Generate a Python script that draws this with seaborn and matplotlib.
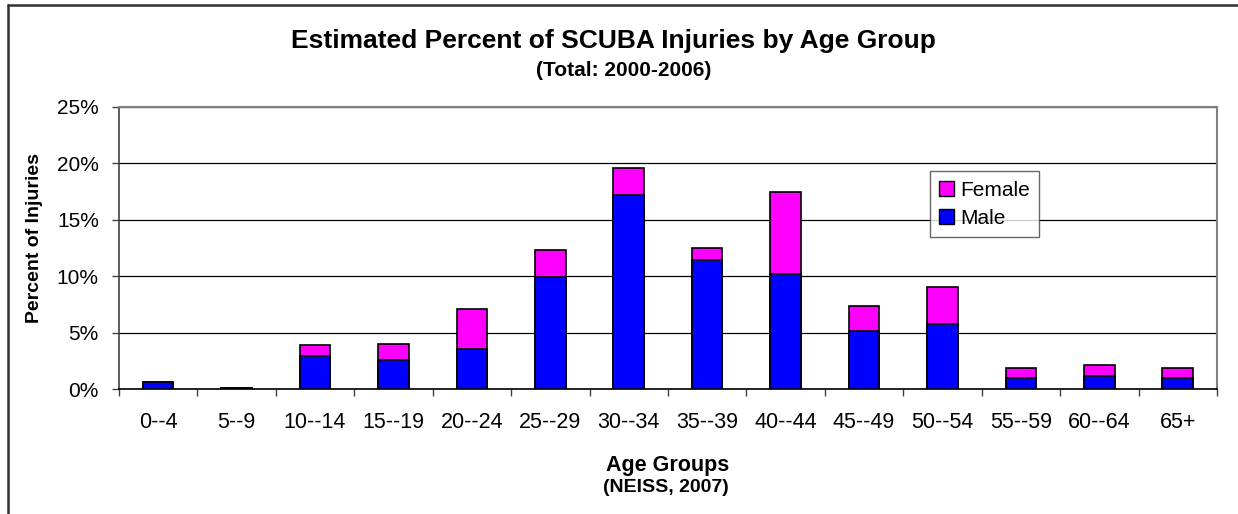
import matplotlib
matplotlib.use("Agg")
import matplotlib.pyplot as plt
import seaborn as sns
import pandas as pd
from matplotlib.lines import Line2D
from matplotlib.patches import Patch
from matplotlib.ticker import FixedLocator, PercentFormatter

# values (percent of injuries)
age_groups = ["0--4", "5--9", "10--14", "15--19", "20--24", "25--29", "30--34",
              "35--39", "40--44", "45--49", "50--54", "55--59", "60--64", "65+"]
male = [0.62, 0.15, 2.95, 2.56, 3.57, 9.96, 17.22, 11.44, 10.17, 5.16, 5.75, 0.97, 1.21, 0.97]
female = [0.04, 0.0, 0.97, 1.48, 3.56, 2.33, 2.36, 1.09, 7.31, 2.21, 3.33, 0.89, 0.91, 0.89]

df = pd.DataFrame({"Age": age_groups, "Male": male, "Female": female})
df["Total"] = df["Male"] + df["Female"]

sns.set_style("white")
plt.rcParams["font.family"] = ["Liberation Sans", "DejaVu Sans"]
plt.rcParams.update({"text.color": "black", "axes.labelcolor": "black",
                     "xtick.color": "black", "ytick.color": "black"})

fig = plt.figure(figsize=(12.38, 5.14), dpi=100)
ax = fig.add_axes([0.0961, 0.2426, 0.8869, 0.5498])

# stacked bars: total (female on top) drawn first, male drawn over it
sns.barplot(data=df, x="Age", y="Total", color="#FF00FF", width=0.39,
            edgecolor="black", linewidth=1.2, saturation=1, ax=ax, zorder=3)
sns.barplot(data=df, x="Age", y="Male", color="#0000FF", width=0.39,
            edgecolor="black", linewidth=1.2, saturation=1, ax=ax, zorder=3)

ax.set_ylim(0, 25)
ax.set_xlim(-0.5, len(age_groups) - 0.5)
ax.set_yticks([0, 5, 10, 15, 20, 25])
ax.yaxis.set_major_formatter(PercentFormatter(decimals=0))
ax.yaxis.grid(True, color="black", linewidth=0.9, zorder=0)
ax.set_axisbelow(True)

ax.tick_params(axis="y", left=True, length=5, width=1, color="#404040",
               labelsize=15, pad=9.5)
ax.tick_params(axis="x", which="major", length=0, labelsize=15.5, pad=16)
ax.xaxis.set_minor_locator(FixedLocator([i - 0.5 for i in range(len(age_groups) + 1)]))
ax.tick_params(axis="x", which="minor", bottom=True, length=5, width=1, color="#404040")

for side in ["top", "right"]:
    ax.spines[side].set_color("#808080")
    ax.spines[side].set_linewidth(1.5)
ax.spines["left"].set_color("#404040")
ax.spines["left"].set_linewidth(1.2)
ax.spines["bottom"].set_color("black")
ax.spines["bottom"].set_linewidth(1.2)

ax.set_xlabel("")
ax.set_ylabel("Percent of Injuries", fontsize=14, fontweight="bold")
ax.yaxis.set_label_coords(-0.069, 0.535)

fig.text(0.4956, 0.92, "Estimated Percent of SCUBA Injuries by Age Group",
         ha="center", va="center", fontsize=19, fontweight="bold")
fig.text(0.504, 0.862, "(Total: 2000-2006)", ha="center", va="center",
         fontsize=15, fontweight="bold")
fig.text(0.5396, 0.095, "Age Groups", ha="center", va="center",
         fontsize=15.5, fontweight="bold")
fig.text(0.538, 0.051, "(NEISS, 2007)", ha="center", va="center",
         fontsize=14, fontweight="bold")

handles = [Patch(facecolor="#FF00FF", edgecolor="black", label="Female"),
           Patch(facecolor="#0000FF", edgecolor="black", label="Male")]
leg = ax.legend(handles=handles, loc="upper left", bbox_to_anchor=(0.7386, 0.772),
                borderaxespad=0, fontsize=15, frameon=True, fancybox=False,
                handlelength=0.7, handleheight=0.7, handletextpad=0.3,
                borderpad=0.45, labelspacing=0.45)
leg.get_frame().set_edgecolor("#404040")
leg.get_frame().set_linewidth(1.0)

# outer chart frame (top and left edges)
fig.add_artist(Line2D([7.5 / 1238, 1.0], [1 - 4.5 / 514, 1 - 4.5 / 514],
                      transform=fig.transFigure, color="#303030", linewidth=1.8))
fig.add_artist(Line2D([7.5 / 1238, 7.5 / 1238], [0.0, 1 - 4.5 / 514],
                      transform=fig.transFigure, color="#303030", linewidth=1.8))

fig.savefig("out.png", dpi=100, facecolor="white")
